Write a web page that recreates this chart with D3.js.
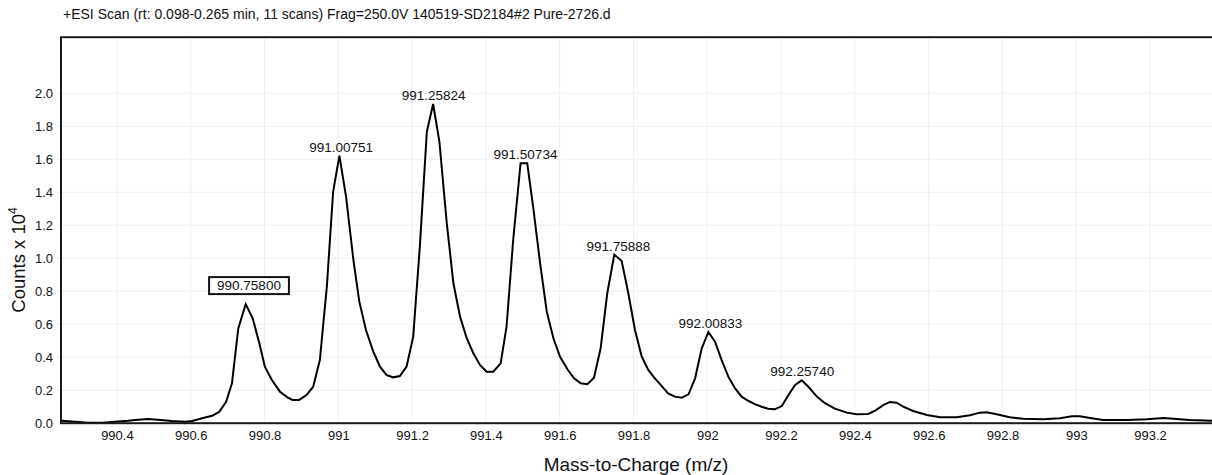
<!DOCTYPE html>
<html>
<head>
<meta charset="utf-8">
<script src="https://cdn.jsdelivr.net/npm/d3@7"></script>
<style>
  body { margin: 0; background: #fff; }
  svg text { font-family: "Liberation Sans", Arial, Helvetica, sans-serif; fill: #111; }
</style>
</head>
<body>
<svg id="chart" width="1212" height="475"></svg>
<script>
// Profile spectrum: m/z and intensity (counts x 10^4)
const mz = [
  990.251, 990.286, 990.322, 990.360, 990.395, 990.430, 990.457, 990.484, 990.511, 990.549,
  990.585, 990.604, 990.631, 990.658, 990.677, 990.696, 990.712, 990.729, 990.749, 990.768,
  990.786, 990.801, 990.820, 990.842, 990.862, 990.876, 990.894, 990.914, 990.932, 990.950,
  990.969, 990.986, 991.003, 991.021, 991.041, 991.057, 991.075, 991.095, 991.113, 991.131,
  991.149, 991.167, 991.185, 991.203, 991.221, 991.240, 991.257, 991.274, 991.294, 991.312,
  991.330, 991.348, 991.366, 991.384, 991.402, 991.420, 991.440, 991.456, 991.474, 991.494,
  991.512, 991.528, 991.547, 991.565, 991.583, 991.601, 991.621, 991.639, 991.657, 991.675,
  991.693, 991.711, 991.729, 991.748, 991.768, 991.786, 991.804, 991.822, 991.840, 991.858,
  991.876, 991.894, 991.912, 991.931, 991.949, 991.967, 991.985, 992.003, 992.021, 992.039,
  992.057, 992.075, 992.093, 992.111, 992.129, 992.147, 992.165, 992.183, 992.202, 992.220,
  992.238, 992.256, 992.274, 992.297, 992.319, 992.346, 992.378, 992.405, 992.436, 992.455,
  992.477, 992.495, 992.513, 992.531, 992.558, 992.595, 992.631, 992.676, 992.712, 992.739,
  992.757, 992.784, 992.820, 992.856, 992.911, 992.956, 992.988, 993.010, 993.037, 993.073,
  993.137, 993.191, 993.236, 993.263, 993.308, 993.368
];
const counts = [
  0.015, 0.009, 0.003, 0.003, 0.009, 0.015, 0.021, 0.025, 0.021, 0.013,
  0.009, 0.013, 0.030, 0.045, 0.068, 0.130, 0.244, 0.575, 0.722, 0.636,
  0.484, 0.343, 0.262, 0.191, 0.157, 0.141, 0.141, 0.171, 0.221, 0.383,
  0.828, 1.403, 1.622, 1.373, 0.989, 0.737, 0.565, 0.433, 0.343, 0.292,
  0.278, 0.286, 0.343, 0.524, 1.070, 1.767, 1.935, 1.707, 1.212, 0.848,
  0.646, 0.515, 0.424, 0.353, 0.312, 0.312, 0.363, 0.585, 1.111, 1.576,
  1.576, 1.313, 0.969, 0.676, 0.515, 0.403, 0.327, 0.272, 0.242, 0.236,
  0.276, 0.454, 0.788, 1.022, 0.983, 0.788, 0.565, 0.407, 0.323, 0.272,
  0.226, 0.181, 0.161, 0.155, 0.175, 0.272, 0.454, 0.553, 0.494, 0.383,
  0.282, 0.212, 0.161, 0.136, 0.116, 0.100, 0.088, 0.084, 0.104, 0.171,
  0.232, 0.260, 0.221, 0.161, 0.121, 0.088, 0.064, 0.054, 0.056, 0.076,
  0.110, 0.129, 0.124, 0.100, 0.074, 0.050, 0.036, 0.036, 0.048, 0.064,
  0.066, 0.054, 0.036, 0.027, 0.024, 0.030, 0.042, 0.042, 0.032, 0.019,
  0.019, 0.024, 0.032, 0.027, 0.019, 0.015
];

// Annotated peak centroids
const peakMz = [990.75800, 991.00751, 991.25824, 991.50734, 991.75888, 992.00833, 992.25740];
const peakText = ["990.75800", "991.00751", "991.25824", "991.50734", "991.75888", "992.00833", "992.25740"];
const boxedPeak = "990.75800";

// Axes
const xTicks = [990.4, 990.6, 990.8, 991.0, 991.2, 991.4, 991.6, 991.8, 992.0, 992.2, 992.4, 992.6, 992.8, 993.0, 993.2];
const yTicks = [0.0, 0.2, 0.4, 0.6, 0.8, 1.0, 1.2, 1.4, 1.6, 1.8, 2.0];
const xDomain = [990.2485, 993.376];
const yDomain = [0, 2.34];

const titleText = "+ESI Scan (rt: 0.098-0.265 min, 11 scans) Frag=250.0V 140519-SD2184#2 Pure-2726.d";
const xTitle = "Mass-to-Charge (m/z)";

const svg = d3.select("#chart");
const plot = { left: 61, right: 1215, top: 37.2, bottom: 423.2 };

const x = d3.scaleLinear().domain(xDomain).range([plot.left, plot.right]);
const y = d3.scaleLinear().domain(yDomain).range([plot.bottom, plot.top]);

// Title
svg.append("text")
  .attr("x", 63).attr("y", 18.5)
  .style("font-size", "14px")
  .text(titleText);

// Grid
const grid = svg.append("g");
grid.selectAll("line.gx").data(xTicks).join("line")
  .attr("x1", d => x(d)).attr("x2", d => x(d))
  .attr("y1", plot.top).attr("y2", plot.bottom)
  .attr("stroke", "#efefef").attr("stroke-width", 1);
grid.selectAll("line.gy").data(yTicks).join("line")
  .attr("x1", plot.left - 4).attr("x2", plot.right)
  .attr("y1", d => y(d)).attr("y2", d => y(d))
  .attr("stroke", "#efefef").attr("stroke-width", 1);

// Axes (tick labels only; the frame carries the lines)
const font = "'Liberation Sans', Arial, sans-serif";
const xAxis = d3.axisBottom(x).tickValues(xTicks).tickSize(0).tickPadding(8)
  .tickFormat(d => String(+d.toFixed(1)));
svg.append("g").attr("transform", `translate(0,${plot.bottom})`).call(xAxis)
  .call(g => g.select(".domain").remove())
  .call(g => g.selectAll("text").style("font-size", "13px").attr("fill", "#111").style("font-family", font));

const yAxis = d3.axisLeft(y).tickValues(yTicks).tickSize(0).tickPadding(8)
  .tickFormat(d3.format(".1f"));
svg.append("g").attr("transform", `translate(${plot.left},0)`).call(yAxis)
  .call(g => g.select(".domain").remove())
  .call(g => g.selectAll("text").style("font-size", "13px").attr("fill", "#111").style("font-family", font));

// Profile trace
const data = mz.map((m, i) => ({ m, c: counts[i] }));
svg.append("clipPath").attr("id", "clip")
  .append("rect").attr("x", plot.left).attr("y", plot.top)
  .attr("width", plot.right - plot.left).attr("height", plot.bottom - plot.top);
svg.append("path")
  .datum(data)
  .attr("clip-path", "url(#clip)")
  .attr("fill", "none")
  .attr("stroke", "#000")
  .attr("stroke-width", 2)
  .attr("stroke-linejoin", "miter")
  .attr("d", d3.line().x(d => x(d.m)).y(d => y(d.c)));

// Frame
svg.append("rect")
  .attr("x", plot.left).attr("y", plot.top)
  .attr("width", plot.right - plot.left).attr("height", plot.bottom - plot.top)
  .attr("fill", "none").attr("stroke", "#1a1a1a").attr("stroke-width", 2);

// Peak annotations
function apexNear(m) {
  const near = data.filter(d => Math.abs(d.m - m) < 0.03);
  return d3.max(near, d => d.c);
}
const labels = svg.append("g");
peakMz.forEach((m, i) => {
  const top = y(apexNear(m));
  const boxed = peakText[i] === boxedPeak;
  const t = labels.append("text")
    .attr("x", x(m))
    .attr("y", boxed ? top - 14 : top - 4)
    .attr("text-anchor", "middle")
    .style("font-size", "13.5px")
    .text(peakText[i]);
  if (boxed) {
    const bb = t.node().getBBox();
    labels.insert("rect", "text")
      .attr("x", bb.x - 8).attr("y", bb.y - 1)
      .attr("width", bb.width + 16).attr("height", bb.height + 2)
      .attr("fill", "#fff").attr("stroke", "#111").attr("stroke-width", 2);
  }
});

// Axis titles
svg.append("text")
  .attr("x", 636).attr("y", 471)
  .attr("text-anchor", "middle")
  .style("font-size", "19px")
  .text(xTitle);

const yt = svg.append("text")
  .attr("transform", "translate(25,260) rotate(-90)")
  .attr("text-anchor", "middle")
  .style("font-size", "18.5px");
yt.append("tspan").text("Counts x 10");
yt.append("tspan").attr("dy", -8).style("font-size", "12px").text("4");
</script>
</body>
</html>
